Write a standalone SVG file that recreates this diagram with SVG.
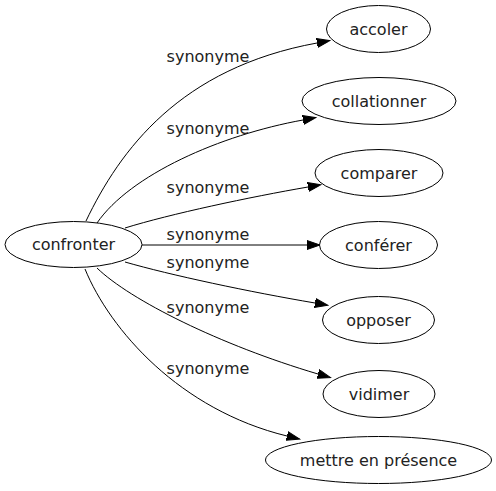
<svg xmlns="http://www.w3.org/2000/svg" width="496" height="491" viewBox="0 0 496 491">
<style>
.node ellipse{fill:#fff;stroke:#000;stroke-width:1}
.node text{font-family:"DejaVu Sans",sans-serif;font-size:16px;fill:#222;text-anchor:middle}
.edge path{fill:none;stroke:#000;stroke-width:1}
.lbl{font-family:"DejaVu Sans",sans-serif;font-size:16px;fill:#222;text-anchor:middle}
</style>
<defs>
<marker id="arr" markerUnits="userSpaceOnUse" markerWidth="14" markerHeight="10" refX="0" refY="5" orient="auto" viewBox="0 0 14 10">
<path d="M0,0.5 L13,5 L0,9.5 Z" fill="#000" stroke="#000" stroke-width="1"/>
</marker>
</defs>
<rect width="496" height="491" fill="#fff"/>
<g id="edges" class="edge">
<path d="M86,221 C120,150 180,68 317,43" marker-end="url(#arr)"/>
<path d="M97,223 C130,175 220,135 303,120" marker-end="url(#arr)"/>
<path d="M125,228 C170,214 250,197 308,187" marker-end="url(#arr)"/>
<path d="M142,245 L307,245" marker-end="url(#arr)"/>
<path d="M125,262 C170,275 250,292 315,303" marker-end="url(#arr)"/>
<path d="M97,268 C130,300 220,345 318,374" marker-end="url(#arr)"/>
<path d="M85,269 C110,330 180,410 287,436" marker-end="url(#arr)"/>
<text class="lbl" x="208" y="61.5">synonyme</text>
<text class="lbl" x="208" y="134">synonyme</text>
<text class="lbl" x="208" y="193">synonyme</text>
<text class="lbl" x="208" y="240">synonyme</text>
<text class="lbl" x="208" y="268">synonyme</text>
<text class="lbl" x="208" y="313">synonyme</text>
<text class="lbl" x="208" y="374">synonyme</text>
</g>
<g id="confronter" class="node"><ellipse cx="73.5" cy="244.5" rx="68.5" ry="23"/><text x="73.5" y="250">confronter</text></g>
<g id="accoler" class="node"><ellipse cx="378.5" cy="29" rx="52" ry="23.5"/><text x="378.5" y="34.5">accoler</text></g>
<g id="collationner" class="node"><ellipse cx="379" cy="101" rx="77" ry="23.5"/><text x="379" y="106.5">collationner</text></g>
<g id="comparer" class="node"><ellipse cx="379" cy="173" rx="64" ry="23.5"/><text x="379" y="178.5">comparer</text></g>
<g id="conferer" class="node"><ellipse cx="378.5" cy="245" rx="59" ry="23.5"/><text x="378.5" y="250.5">conférer</text></g>
<g id="opposer" class="node"><ellipse cx="378.5" cy="320" rx="56" ry="23.5"/><text x="378.5" y="325.5">opposer</text></g>
<g id="vidimer" class="node"><ellipse cx="379" cy="394" rx="56" ry="23.5"/><text x="379" y="399.5">vidimer</text></g>
<g id="mettre" class="node"><ellipse cx="378.5" cy="460" rx="113" ry="23.5"/><text x="378.5" y="465.5">mettre en présence</text></g>
</svg>
